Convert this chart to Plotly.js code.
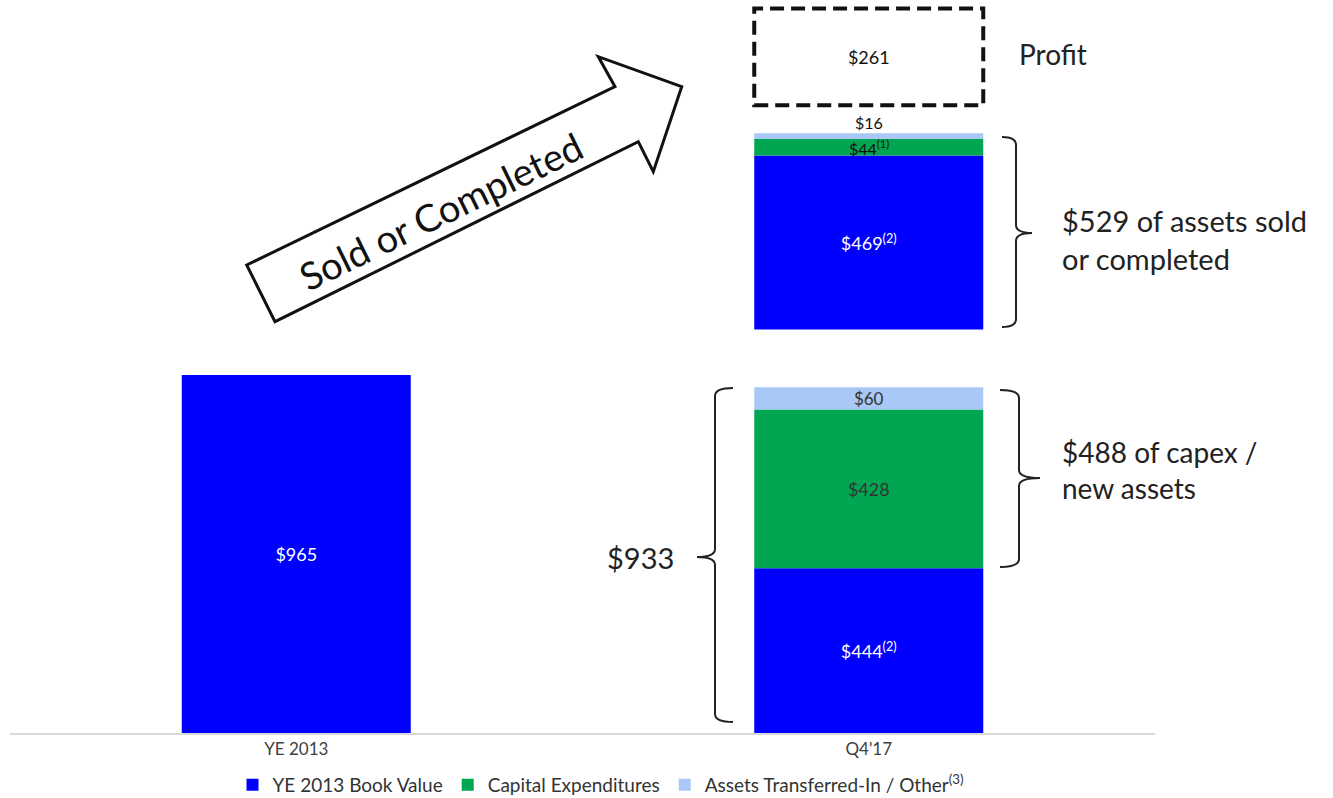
<!DOCTYPE html>
<html>
<head>
<meta charset="utf-8">
<script src="https://cdn.plot.ly/plotly-3.0.1.min.js"></script>
<style>html,body{margin:0;padding:0;background:#fff;}#chart{width:1333px;height:798px;}</style>
</head>
<body>
<div id="chart"></div>
<script>
// ---- data ----
const categories = ["YE 2013", "Q4'17"];
const bookValue = [965, 444];            // YE 2013 Book Value
const capexValue = [428];                // Capital Expenditures (Q4'17 remaining)
const otherValue = [60];                 // Assets Transferred-In / Other (Q4'17 remaining)
const soldBook = [469];                  // sold / completed: book value
const soldCapex = [44];                  // sold / completed: capex
const soldOther = [16];                  // sold / completed: other
const profitValue = [261];               // profit on sold / completed
const bookLabels = ["$965", "$444<sup>(2)</sup>"];
const capexLabels = ["$428"];
const otherLabels = ["$60"];
const soldBookLabels = ["$469<sup>(2)</sup>"];
const soldCapexLabels = ["$44<sup>(1)</sup>"];
const soldOtherLabels = ["$16"];
const profitLabels = ["$261"];
const seriesNames = ["YE 2013 Book Value", "Capital Expenditures", "Assets Transferred-In / Other<sup>(3)</sup>"];

// ---- layout constants ----
const BLUE = "#0000FF", GREEN = "#00A651", LIGHT = "#A9C8F5";
const FONT = "Lato, 'Open Sans', sans-serif";
const BAR_W = 0.4;
const GAP1 = 156;   // gap between remaining stack and sold stack (axis units)
const GAP2 = 75;    // gap between sold stack and profit box (axis units)
const L = 10, W = 1145, H = 733;
const px = x => (x - L) / W;
const py = y => (H - y) / H;
const P = (x, y) => px(x).toFixed(5) + "," + py(y).toFixed(5);

const q = categories[1];
const remTotal = bookValue[1] + capexValue[0] + otherValue[0];
const soldBase = remTotal + GAP1;
const soldTop = soldBase + soldBook[0] + soldCapex[0] + soldOther[0];
const profitBase = soldTop + GAP2;

const common = {type: "bar", width: BAR_W, hoverinfo: "skip", textposition: "inside",
  insidetextanchor: "middle", constraintext: "none", marker: {line: {width: 0}}};

const traces = [
  Object.assign({}, common, {name: seriesNames[0], x: categories, y: bookValue, base: [0, 0],
    marker: {color: BLUE}, text: bookLabels, textfont: {color: "#ffffff", size: 18, family: FONT},
    legendgroup: "a"}),
  Object.assign({}, common, {name: seriesNames[1], x: [q], y: capexValue, base: [bookValue[1]],
    marker: {color: GREEN}, text: capexLabels, textfont: {color: "#333333", size: 18, family: FONT},
    legendgroup: "b"}),
  Object.assign({}, common, {name: seriesNames[2], x: [q], y: otherValue, base: [bookValue[1] + capexValue[0]],
    marker: {color: LIGHT}, text: otherLabels, textfont: {color: "#333333", size: 17, family: FONT},
    legendgroup: "c"}),
  Object.assign({}, common, {name: seriesNames[0], x: [q], y: soldBook, base: [soldBase],
    marker: {color: BLUE}, text: soldBookLabels, textfont: {color: "#ffffff", size: 18, family: FONT},
    legendgroup: "a", showlegend: false}),
  Object.assign({}, common, {name: seriesNames[1], x: [q], y: soldCapex, base: [soldBase + soldBook[0]],
    marker: {color: GREEN}, textposition: "none",
    legendgroup: "b", showlegend: false}),
  Object.assign({}, common, {name: seriesNames[2], x: [q], y: soldOther, base: [soldBase + soldBook[0] + soldCapex[0]],
    marker: {color: LIGHT}, textposition: "none",
    legendgroup: "c", showlegend: false}),
  Object.assign({}, common, {name: "Profit", x: [q], y: profitValue, base: [profitBase],
    marker: {color: "rgba(255,255,255,0)"}, text: profitLabels, textfont: {color: "#111111", size: 18, family: FONT},
    showlegend: false})
];

function braceRight(x0, xv, xt, top, mid, bot) {
  return "M" + P(x0, top) + " Q" + P(xv, top) + " " + P(xv, top + 8) +
    " L" + P(xv, mid - 8) + " Q" + P(xv, mid) + " " + P(xt, mid) +
    " Q" + P(xv, mid) + " " + P(xv, mid + 8) + " L" + P(xv, bot - 8) +
    " Q" + P(xv, bot) + " " + P(x0, bot);
}

const arrowPts = [[246.7, 265], [615, 86.7], [598.3, 56.7], [681.7, 86.7], [653.3, 171.7], [638.3, 141.7], [275, 321.7]];
const arrowPath = "M" + arrowPts.map(p => P(p[0], p[1])).join(" L") + " Z";

const shapes = [
  {type: "path", xref: "paper", yref: "paper", path: arrowPath, fillcolor: "#ffffff",
    line: {color: "#111111", width: 3}},
  {type: "rect", xref: "x", yref: "y", x0: 1 - BAR_W / 2, x1: 1 + BAR_W / 2,
    y0: profitBase, y1: profitBase + profitValue[0], line: {color: "#111111", width: 4, dash: "14px,7px"}},
  {type: "path", xref: "paper", yref: "paper", path: braceRight(1002, 1016, 1032, 137, 233, 327),
    line: {color: "#222222", width: 2}},
  {type: "path", xref: "paper", yref: "paper", path: braceRight(1000, 1019, 1040, 390, 478, 567),
    line: {color: "#222222", width: 2}},
  {type: "path", xref: "paper", yref: "paper", path: braceRight(733, 715, 697, 388, 557, 722),
    line: {color: "#222222", width: 2}}
];

const annotations = [
  {xref: "x", yref: "y", x: 1, y: soldBase + soldBook[0] + soldCapex[0] / 2, yanchor: "middle",
    text: soldCapexLabels[0], showarrow: false, font: {family: FONT, size: 16, color: "#111111"}},
  {xref: "x", yref: "y", x: 1, y: soldTop, yanchor: "bottom", yshift: -1,
    text: soldOtherLabels[0], showarrow: false, font: {family: FONT, size: 16, color: "#111111"}},
  {xref: "paper", yref: "paper", x: px(1017), y: py(54), xanchor: "left", yanchor: "middle",
    text: "Profit", showarrow: false, font: {family: FONT, size: 28, color: "#222222"}},
  {xref: "paper", yref: "paper", x: px(1060), y: py(239), xanchor: "left", yanchor: "middle", align: "left",
    text: "$529 of assets sold<br>or completed", showarrow: false, font: {family: FONT, size: 29, color: "#222222"}},
  {xref: "paper", yref: "paper", x: px(1060), y: py(470), xanchor: "left", yanchor: "middle", align: "left",
    text: "$488 of capex /<br>new assets", showarrow: false, font: {family: FONT, size: 28, color: "#222222"}},
  {xref: "paper", yref: "paper", x: px(676), y: py(557), xanchor: "right", yanchor: "middle",
    text: "$933", showarrow: false, font: {family: FONT, size: 29, color: "#222222"}},
  {xref: "paper", yref: "paper", x: px(440), y: py(211), xanchor: "center", yanchor: "middle",
    text: "Sold or Completed", textangle: -26, showarrow: false, font: {family: FONT, size: 38, color: "#111111"}}
];

const layout = {
  width: 1333, height: 798,
  margin: {l: L, r: 1333 - L - W, t: 0, b: 798 - H, pad: 0},
  paper_bgcolor: "#ffffff", plot_bgcolor: "#ffffff",
  font: {family: FONT, color: "#333333"},
  barmode: "overlay",
  showlegend: true,
  legend: {orientation: "h", xref: "container", yref: "container", x: 601 / 1333, xanchor: "center",
    y: (798 - 766) / 798, yanchor: "top",
    font: {family: FONT, size: 19, color: "#333333"}, traceorder: "normal", itemwidth: 30},
  xaxis: {type: "category", range: [-0.5, 1.5], showline: true, linecolor: "#d9d9d9", linewidth: 2,
    ticks: "", showgrid: false, zeroline: false, tickfont: {family: FONT, size: 17, color: "#404040"}},
  yaxis: {visible: false, range: [0, 1976], showgrid: false, zeroline: false},
  shapes: shapes,
  annotations: annotations
};

Plotly.newPlot("chart", traces, layout, {displayModeBar: false, staticPlot: true});
</script>
</body>
</html>
